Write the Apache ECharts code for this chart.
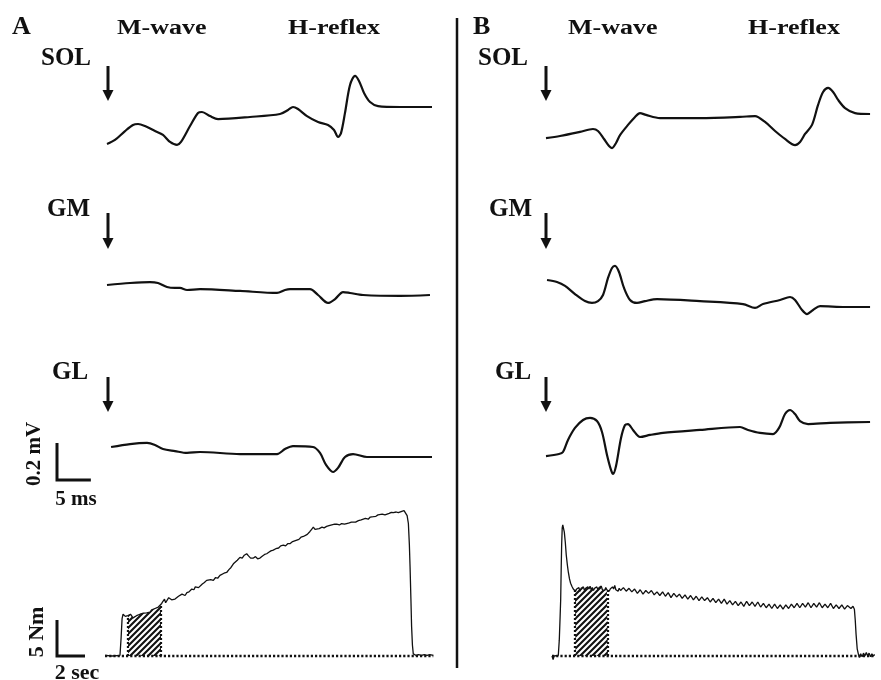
<!DOCTYPE html>
<html><head><meta charset="utf-8">
<script src="https://cdn.jsdelivr.net/npm/echarts@6/dist/echarts.min.js"></script>
<style>html,body{margin:0;padding:0;background:#fff}#c{width:881px;height:680px}</style>
</head><body><div id="c"></div><script>
// ---------- DATA (EMG: [ms, mV]; torque: [s, Nm]) ----------
const solA = [[0,-0.200],[1.18,-0.178],[2.66,-0.130],[3.84,-0.097],[4.58,-0.092],[5.61,-0.103],[7.09,-0.130],[8.27,-0.151],[9.31,-0.189],[10.34,-0.205],[10.93,-0.189],[12.26,-0.103],[13.44,-0.032],[14.03,-0.027],[15.21,-0.049],[16.4,-0.065],[21.12,-0.054],[25.55,-0.038],[26.74,-0.016],[27.47,0],[28.21,-0.011],[29.54,-0.049],[31.17,-0.081],[32.64,-0.097],[33.53,-0.124],[34.12,-0.162],[34.56,-0.141],[35.15,-0.032],[35.89,0.119],[36.63,0.168],[37.22,0.141],[37.96,0.076],[38.85,0.027],[40.03,0.005],[43.28,0],[48,0]];
const gmA = [[0,0.054],[3.4,0.065],[6.35,0.070],[7.53,0.065],[8.86,0.043],[10.04,0.038],[10.78,0.038],[11.82,0.027],[13.74,0.032],[19.65,0.022],[25.11,0.011],[26.29,0.027],[27.03,0.032],[29.98,0.032],[31.17,0],[32.64,-0.043],[33.68,-0.022],[34.86,0.016],[35.89,0.011],[37.81,0],[43.28,-0.005],[47.7,0]];
const glA = [[0.6,0.054],[3.4,0.070],[5.91,0.076],[7.09,0.065],[8.27,0.043],[10.04,0.032],[11.82,0.022],[13.74,0.027],[19.65,0.016],[25.11,0.016],[26.29,0.043],[27.47,0.059],[30.43,0.054],[31.46,0.022],[32.35,-0.043],[33.38,-0.081],[34.12,-0.059],[35.15,0],[36.34,0.016],[38.4,0],[43.28,0],[48,0]];
const solB = [[0,-0.130],[2.07,-0.119],[5.02,-0.097],[6.94,-0.081],[7.68,-0.092],[8.57,-0.135],[9.31,-0.173],[9.75,-0.184],[10.34,-0.157],[10.93,-0.114],[12.11,-0.059],[13.15,-0.016],[13.88,0.005],[14.77,-0.005],[16.84,-0.022],[22.75,-0.022],[28.66,-0.016],[30.87,-0.011],[32.35,-0.043],[33.83,-0.092],[35.3,-0.135],[36.78,-0.168],[37.52,-0.151],[38.26,-0.108],[39.29,-0.059],[40.18,0.049],[40.92,0.119],[41.66,0.141],[42.4,0.119],[43.14,0.076],[44.17,0.032],[45.64,0.005],[47.86,0]];
const gmB = [[0.15,0.146],[1.62,0.135],[2.81,0.114],[4.28,0.070],[5.76,0.032],[6.79,0.022],[7.68,0.032],[8.42,0.065],[9.16,0.157],[9.75,0.211],[10.19,0.222],[10.78,0.189],[11.52,0.103],[12.41,0.038],[13.44,0.022],[14.62,0.032],[16.4,0.043],[22.75,0.032],[29.1,0.016],[30.87,-0.005],[32.05,0.016],[34.56,0.038],[36.04,0.054],[36.78,0.038],[37.81,-0.016],[38.55,-0.038],[39.44,-0.016],[40.47,0.005],[44.17,0],[47.86,0]];
const glB = [[0,-0.184],[1.92,-0.173],[2.51,-0.162],[3.25,-0.097],[4.28,-0.032],[5.47,0.011],[6.5,0.022],[7.53,0.005],[8.27,-0.054],[9.01,-0.178],[9.6,-0.259],[9.9,-0.281],[10.34,-0.238],[11.08,-0.086],[11.67,-0.016],[12.11,-0.011],[12.85,-0.043],[13.88,-0.081],[15.36,-0.070],[17.28,-0.059],[22.75,-0.043],[28.66,-0.027],[29.84,-0.043],[31.61,-0.059],[33.53,-0.065],[34.42,-0.032],[35.3,0.043],[36.04,0.065],[36.78,0.043],[37.52,0.005],[38.7,-0.011],[41.95,-0.005],[47.86,0]];

const torqueA = [[0,0.1],[0.5,0],[1.07,0.1],[1.15,2.5],[1.22,5.2],[1.29,5.8],[1.36,5.9],[1.45,5.5],[1.55,5.3],[1.64,5.6],[1.74,5.5],[1.82,5.8],[1.9,5.6],[2.0,5.3],[2.14,5.4],[2.25,5.6],[2.36,5.5],[2.5,5.8],[2.62,5.7],[2.75,5.95],[2.86,5.8],[2.98,6.0],[3.1,6.2],[3.21,6.1],[3.33,6.4],[3.45,6.3],[3.57,6.6],[3.7,6.5],[3.81,6.8],[3.93,6.7],[4.05,7.3],[4.14,7.6],[4.25,7.9],[4.33,7.4],[4.43,7.6],[4.55,8.1],[4.64,8.2],[4.76,7.8],[4.9,8.0],[5.0,7.9],[5.12,8.1],[5.25,8.3],[5.36,8.1],[5.5,8.6],[5.6,8.6],[5.72,8.4],[5.85,8.8],[6.0,8.9],[6.1,9.0],[6.2,9.3],[6.35,9.2],[6.45,9.6],[6.55,9.8],[6.68,9.5],[6.79,9.6],[6.95,10.0],[7.1,10.2],[7.26,10.5],[7.4,10.3],[7.55,10.6],[7.74,10.5],[7.9,10.9],[8.05,10.8],[8.21,11.2],[8.35,11.1],[8.5,11.5],[8.69,11.6],[8.85,12.0],[9.0,12.3],[9.17,12.8],[9.3,12.7],[9.45,13.3],[9.64,13.7],[9.8,13.6],[9.95,14.0],[10.12,14.2],[10.25,13.9],[10.4,13.6],[10.6,13.6],[10.75,13.8],[10.9,13.5],[11.07,13.6],[11.25,13.9],[11.4,14.1],[11.55,14.2],[11.7,14.4],[11.85,14.6],[12.02,14.7],[12.2,14.9],[12.4,15.0],[12.55,15.3],[12.74,15.4],[12.9,15.3],[13.05,15.6],[13.21,15.6],[13.4,15.9],[13.55,16.0],[13.69,16.2],[13.85,16.2],[14.0,16.5],[14.17,16.6],[14.3,16.8],[14.45,16.9],[14.64,17.3],[14.76,17.6],[14.88,17.9],[15.0,17.6],[15.12,17.5],[15.3,17.7],[15.5,17.9],[15.65,17.8],[15.83,18.0],[16.0,18.1],[16.2,18.2],[16.4,18.3],[16.55,18.3],[16.75,18.2],[16.9,18.4],[17.1,18.3],[17.26,18.4],[17.45,18.5],[17.6,18.6],[17.74,18.7],[17.9,18.6],[18.1,18.8],[18.3,18.9],[18.45,19.0],[18.6,19.1],[18.8,19.0],[18.95,19.3],[19.17,19.35],[19.35,19.4],[19.5,19.6],[19.64,19.55],[19.8,19.7],[20.0,19.6],[20.12,19.75],[20.3,19.8],[20.45,19.95],[20.6,19.9],[20.8,20.0],[20.95,19.9],[21.07,20.0],[21.2,20.1],[21.36,20.2],[21.48,20.0],[21.58,19.5],[21.67,18.4],[21.74,15.5],[21.79,12.4],[21.85,8.0],[21.9,4.1],[21.96,1.5],[22.02,0.3],[22.2,0.1],[22.4,0.2],[22.6,0.1],[22.8,0.2],[23.0,0.1],[23.2,0.2],[23.45,0.1]];
const torqueB = [[0,0],[0.08,-0.5],[0.15,0],[0.45,0.1],[0.52,2.2],[0.58,5.5],[0.62,7.8],[0.66,12.5],[0.69,15.5],[0.73,17.8],[0.77,18.2],[0.82,18.0],[0.88,17.2],[0.95,15.8],[1.02,14.0],[1.1,12.6],[1.17,11.6],[1.25,10.7],[1.33,10.1],[1.42,9.7],[1.52,9.3],[1.6,9.5],[1.68,9.0],[1.76,9.3],[1.84,9.1],[1.92,9.5],[2.0,9.0],[2.08,9.4],[2.16,9.2],[2.24,9.6],[2.32,9.1],[2.4,9.4],[2.48,9.2],[2.56,9.6],[2.64,9.3],[2.72,9.7],[2.8,9.2],[2.88,9.5],[2.96,9.1],[3.04,9.4],[3.12,9.3],[3.2,9.6],[3.28,9.2],[3.36,9.5],[3.44,9.3],[3.52,9.7],[3.6,9.2],[3.68,9.4],[3.76,9.1],[3.84,9.5],[3.92,9.2],[4.0,9.4],[4.08,9.0],[4.16,9.3],[4.24,9.1],[4.32,9.6],[4.4,9.3],[4.48,9.8],[4.56,9.2],[4.64,9.4],[4.72,9.0],[4.8,9.4],[4.9,9.1],[5.0,9.0],[5.1,9.5],[5.2,9.3],[5.3,9.0],[5.4,8.9],[5.5,9.4],[5.6,9.3],[5.7,8.9],[5.8,9.0],[5.9,9.3],[6.0,9.2],[6.1,8.7],[6.2,8.8],[6.3,9.2],[6.4,9.1],[6.5,8.6],[6.6,8.8],[6.7,9.1],[6.8,9.0],[6.9,8.7],[7.0,8.6],[7.1,9.1],[7.2,9.0],[7.3,8.5],[7.4,8.6],[7.5,8.9],[7.6,8.9],[7.7,8.4],[7.8,8.5],[7.9,8.9],[8.0,8.8],[8.1,8.3],[8.2,8.4],[8.3,8.8],[8.4,8.6],[8.5,8.1],[8.6,8.2],[8.7,8.7],[8.8,8.6],[8.9,8.2],[9.0,8.1],[9.1,8.6],[9.2,8.5],[9.3,8.0],[9.4,8.0],[9.5,8.5],[9.6,8.4],[9.7,7.9],[9.8,8.0],[9.9,8.4],[10.0,8.3],[10.1,7.8],[10.2,7.9],[10.3,8.3],[10.4,8.2],[10.5,7.7],[10.6,7.8],[10.7,8.2],[10.8,8.1],[10.9,7.7],[11.0,7.6],[11.1,8.1],[11.2,8.0],[11.3,7.5],[11.4,7.6],[11.5,8.0],[11.6,7.9],[11.7,7.4],[11.8,7.5],[11.9,7.9],[12.0,7.8],[12.1,7.3],[12.2,7.4],[12.3,7.9],[12.4,7.8],[12.5,7.2],[12.6,7.3],[12.7,7.7],[12.8,7.6],[12.9,7.1],[13.0,7.2],[13.1,7.6],[13.2,7.5],[13.3,7.0],[13.4,7.0],[13.5,7.5],[13.6,7.4],[13.7,6.9],[13.8,7.1],[13.9,7.6],[14.0,7.5],[14.1,7.0],[14.2,7.1],[14.3,7.5],[14.4,7.4],[14.5,6.9],[14.6,7.0],[14.7,7.5],[14.8,7.4],[14.9,6.8],[15.0,6.9],[15.1,7.3],[15.2,7.2],[15.3,6.7],[15.4,6.8],[15.5,7.2],[15.6,7.1],[15.7,6.6],[15.8,6.7],[15.9,7.2],[16.0,7.1],[16.1,6.6],[16.2,6.7],[16.3,7.1],[16.4,7.0],[16.5,6.5],[16.6,6.6],[16.7,7.1],[16.8,7.0],[16.9,6.6],[17.0,6.7],[17.1,7.2],[17.2,7.1],[17.3,6.7],[17.4,6.8],[17.5,7.3],[17.6,7.2],[17.7,6.7],[17.8,6.8],[17.9,7.3],[18.0,7.2],[18.1,6.8],[18.2,6.9],[18.3,7.4],[18.4,7.3],[18.5,6.7],[18.6,6.8],[18.7,7.3],[18.8,7.2],[18.9,6.8],[19.0,6.9],[19.1,7.4],[19.2,7.3],[19.3,6.7],[19.4,6.8],[19.5,7.2],[19.6,7.1],[19.7,6.7],[19.8,6.8],[19.9,7.3],[20.0,7.2],[20.1,6.6],[20.2,6.7],[20.3,7.1],[20.4,7.0],[20.5,6.6],[20.6,6.7],[20.7,7.1],[20.8,7.0],[20.9,6.5],[21.0,6.6],[21.1,7.0],[21.2,6.9],[21.35,6.6],[21.5,6.9],[21.6,6.5],[21.66,5.0],[21.72,3.0],[21.8,1.0],[21.88,0.3],[21.95,-0.2],[22.05,0.3],[22.15,-0.1],[22.25,0.4],[22.35,0.0],[22.45,0.5],[22.55,0.0],[22.65,0.4],[22.75,-0.1],[22.85,0.3],[22.95,0.0],[23.05,0.2]];
const hatchWindow = [1.64, 4.0];     // s, analysed window
const baselineEndA = 23.45, baselineEndB = 23.1;
const emgScale = [[0,0.2],[0,0],[5,0]];   // 0.2 mV / 5 ms
const torqueScale = [[0,5],[0,0],[2,0]];  // 5 Nm / 2 sec
const panelLabels = ['A','B'];
const waveLabels = ['M-wave','H-reflex'];
const muscleLabels = ['SOL','GM','GL'];

// ---------- BUILD ----------
const INK = '#111';
const FONT = '"Liberation Serif","Times New Roman",serif';
const grids=[], xAxes=[], yAxes=[], series=[];
function addGrid(left, top, width, height, xmin, xmax, ymin, ymax){
  grids.push({left, top, width, height, containLabel:false, show:false});
  const i = grids.length-1;
  xAxes.push({type:'value', gridIndex:i, min:xmin, max:xmax, show:false});
  yAxes.push({type:'value', gridIndex:i, min:ymin, max:ymax, show:false});
  return i;
}
function line(i, data, opt){
  return Object.assign({type:'line', xAxisIndex:i, yAxisIndex:i, data, symbol:'none', silent:true,
    animation:false, lineStyle:{color:INK, width:2}, z:3}, opt||{});
}
// EMG traces: 325 px == 48 ms, 148 px == 0.8 mV
const emgRows = [
  [solA, 107, 107], [gmA, 107, 295], [glA, 107, 457],
  [solB, 546, 114], [gmB, 546, 307], [glB, 546, 422]
];
emgRows.forEach(([d, left, base])=>{
  const i = addGrid(left, base-74, 325, 148, 0, 48, -0.4, 0.4);
  series.push(line(i, d, {smooth:0.3, lineStyle:{color:INK, width:2.2, join:'round'}}));
});
// EMG scale bar
{
  const i = addGrid(57, 480-74, 325, 148, 0, 48, -0.4, 0.4);
  series.push(line(i, emgScale, {lineStyle:{color:INK, width:3, join:'miter', cap:'butt'}}));
}
// hatch pattern
function hatchCanvas(){
  const n = 6;
  const c=document.createElement('canvas'); c.width=n; c.height=n;
  const g=c.getContext('2d'); g.strokeStyle=INK; g.lineWidth=2.1; g.lineCap='square';
  g.beginPath(); g.moveTo(0,n); g.lineTo(n,0); g.moveTo(-1,1); g.lineTo(1,-1); g.moveTo(n-1,n+1); g.lineTo(n+1,n-1); g.stroke();
  return c;
}
const pat = {image: hatchCanvas(), repeat:'repeat'};
function interp(d, t){
  for(let k=1;k<d.length;k++){ if(d[k][0]>=t){ const a=d[k-1], b=d[k]; return a[1]+(b[1]-a[1])*(t-a[0])/(b[0]-a[0]); } }
  return d[d.length-1][1];
}
// torque traces: 14 px == 1 s, 7.2 px == 1 Nm
[[torqueA, 105, baselineEndA], [torqueB, 552, baselineEndB]].forEach(([d, left, bEnd])=>{
  const i = addGrid(left, 497.6, 327.6, 172.8, 0, 23.4, -2, 22);
  const [t0, t1] = hatchWindow;
  const v0 = interp(d, t0), v1 = interp(d, t1);
  const seg = [[t0, v0]].concat(d.filter(p=>p[0]>t0 && p[0]<t1)).concat([[t1, v1]]);
  series.push(line(i, seg, {lineStyle:{width:0, opacity:0}, areaStyle:{color:pat, opacity:1, origin:'auto'}, z:1}));
  series.push(line(i, [[t0,0],[t0,v0]], {lineStyle:{color:INK, width:2.2, type:[2,2]}, z:2}));
  series.push(line(i, [[t1,0],[t1,v1]], {lineStyle:{color:INK, width:2.2, type:[2,2]}, z:2}));
  series.push(line(i, [[0,0],[bEnd,0]], {lineStyle:{color:INK, width:2.6, type:[2.2,2]}, z:2}));
  series.push(line(i, d, {lineStyle:{color:INK, width:1.3}, z:3}));
});
// torque scale bar
{
  const i = addGrid(57, 497.6, 327.6, 172.8, 0, 23.4, -2, 22);
  series.push(line(i, torqueScale, {lineStyle:{color:INK, width:3, join:'miter', cap:'butt'}}));
}

// ---------- ANNOTATIONS ----------
const graphic = [];
function txt(x, y, s, size, extra){
  graphic.push(Object.assign({type:'text', x, y, silent:true, style:{text:s, font:'bold '+size+'px '+FONT, fill:INK, textAlign:'left', textVerticalAlign:'middle'}}, extra||{}));
}
txt(12, 27, panelLabels[0], 26);
txt(473, 27, panelLabels[1], 26);
txt(117, 28.5, waveLabels[0], 20, {scaleX:1.3});
txt(288, 28.5, waveLabels[1], 20, {scaleX:1.3});
txt(568, 28.5, waveLabels[0], 20, {scaleX:1.3});
txt(748, 28.5, waveLabels[1], 20, {scaleX:1.3});
txt(41, 59, muscleLabels[0], 25);
txt(478, 59, muscleLabels[0], 25);
txt(47, 210, muscleLabels[1], 25);
txt(489, 210, muscleLabels[1], 25);
txt(52, 372.5, muscleLabels[2], 25);
txt(495, 372.5, muscleLabels[2], 25);
// scale bar labels
graphic.push({type:'text', x:35, y:454, rotation:Math.PI/2, silent:true, style:{text:'0.2 mV', font:'bold 21px '+FONT, fill:INK, textAlign:'center', textVerticalAlign:'middle'}});
graphic.push({type:'text', x:76, y:500, silent:true, style:{text:'5 ms', font:'bold 21px '+FONT, fill:INK, textAlign:'center', textVerticalAlign:'middle'}});
graphic.push({type:'text', x:37, y:632, rotation:Math.PI/2, silent:true, style:{text:'5 Nm', font:'bold 22px '+FONT, fill:INK, textAlign:'center', textVerticalAlign:'middle'}});
graphic.push({type:'text', x:77, y:673, silent:true, style:{text:'2 sec', font:'bold 22px '+FONT, fill:INK, textAlign:'center', textVerticalAlign:'middle'}});
// stimulus arrows
function arrow(x, y0, y1){
  graphic.push({type:'line', silent:true, shape:{x1:x, y1:y0, x2:x, y2:y1-9}, style:{stroke:INK, lineWidth:3}});
  graphic.push({type:'polygon', silent:true, shape:{points:[[x-5.5,y1-11],[x+5.5,y1-11],[x,y1]]}, style:{fill:INK}});
}
[[108,66,101],[108,213,249],[108,377,412],[546,66,101],[546,213,249],[546,377,412]].forEach(a=>arrow(...a));
// divider
graphic.push({type:'line', silent:true, shape:{x1:457, y1:18, x2:457, y2:668}, style:{stroke:INK, lineWidth:2.5}});

const chart = echarts.init(document.getElementById('c'), null, {renderer:'canvas'});
chart.setOption({animation:false, backgroundColor:'#fff', grid:grids, xAxis:xAxes, yAxis:yAxes, series, graphic});
</script></body></html>
